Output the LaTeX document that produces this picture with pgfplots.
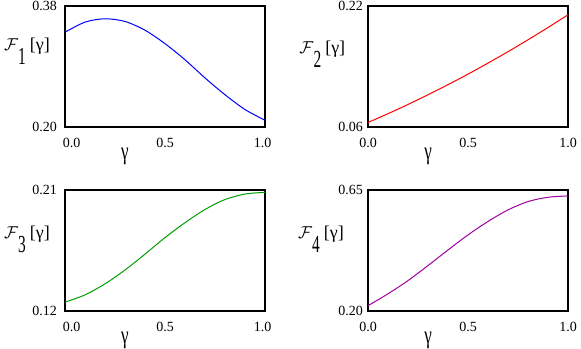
\documentclass[border=0pt]{standalone}
\usepackage{fontspec}
\setmainfont{Liberation Serif}
\usepackage{graphicx}
\usepackage{pgfplots}
\pgfplotsset{compat=1.18}

\definecolor{mblue}{rgb}{0,0,1}
\definecolor{mred}{rgb}{1,0,0}
\definecolor{mgreen}{rgb}{0,0.62,0}
\definecolor{mpurple}{rgb}{0.62,0,0.62}

% y label: script F, tall subscript, [gamma]
\newcommand{\flab}[1]{{\fontsize{17bp}{17bp}\selectfont$\mathcal{F}$}%
  \raisebox{-14bp}{\scalebox{1.1}[1.75]{\fontsize{14bp}{14bp}\selectfont #1}}%
  \hspace{4bp}{\fontsize{18bp}{18bp}\selectfont [γ]}}
\newcommand{\glab}{\scalebox{0.85}[1.25]{\fontsize{20bp}{20bp}\selectfont γ}}

\pgfplotsset{
  panel/.style={
    scale only axis, width=200bp, height=121bp,
    xmin=0, xmax=1, anchor=south west,
    axis lines=box,
    every axis plot/.append style={line width=1bp, smooth},
    axis line style={line width=1.6bp, black},
    major tick length=0pt,
    tick label style={font=\fontsize{14bp}{14bp}\selectfont, inner sep=0pt},
    xtick={0,0.5,1},
    xticklabel style={yshift=-11bp},
    xlabel={\glab},
    xlabel style={at={(rel axis cs:0.3,0)}, anchor=center, yshift=-29bp},
    ylabel style={rotate=-90, anchor=base east, inner sep=0pt},
  },
  leftcol/.style={
    xticklabels={\hspace*{13bp}0.0, 0.5, 1.0\hspace*{4.6bp}},
    yticklabel style={xshift=-8bp},
  },
  rightcol/.style={
    xticklabels={0.0, 0.5, 1.0},
    yticklabel style={xshift=-5bp},
  },
}

\begin{document}
\begin{tikzpicture}[x=1bp, y=1bp]
\useasboundingbox (0,0) rectangle (581,348);

% F1
\begin{axis}[panel, leftcol, at={(65bp,221bp)},
    ymin=0.20, ymax=0.38, ytick={0.20,0.38}, yticklabels={0.20,0.38},
    ylabel={\flab{1}}, ylabel style={at={(rel axis cs:-0.075,0.63)}}]
\addplot[mblue] coordinates {
  (0,0.341) (0.1,0.356) (0.2,0.361) (0.3,0.357) (0.4,0.344) (0.5,0.324)
  (0.6,0.300) (0.7,0.273) (0.8,0.248) (0.9,0.226) (1,0.210)};
\end{axis}

% F2
\begin{axis}[panel, rightcol, at={(368bp,221bp)},
    ymin=0.06, ymax=0.22, ytick={0.06,0.22}, yticklabels={0.06,0.22},
    ylabel={\flab{2}}, ylabel style={at={(rel axis cs:-0.113,0.61)}}]
\addplot[mred] coordinates {
  (0,0.0660) (0.1,0.0776) (0.2,0.0898) (0.3,0.1026) (0.4,0.1160) (0.5,0.1299)
  (0.6,0.1445) (0.7,0.1596) (0.8,0.1753) (0.9,0.1916) (1,0.2084)};
\end{axis}

% F3
\begin{axis}[panel, leftcol, at={(65bp,37bp)},
    ymin=0.12, ymax=0.21, ytick={0.12,0.21}, yticklabels={0.12,0.21},
    ylabel={\flab{3}}, ylabel style={at={(rel axis cs:-0.075,0.60)}}]
\addplot[mgreen] coordinates {
  (0,0.1266) (0.1,0.1320) (0.2,0.1402) (0.3,0.1505) (0.4,0.1623) (0.5,0.1746)
  (0.6,0.1857) (0.7,0.1955) (0.8,0.2029) (0.9,0.2070) (1,0.2083)};
\end{axis}

% F4
\begin{axis}[panel, rightcol, at={(368bp,37bp)},
    ymin=0.20, ymax=0.65, ytick={0.20,0.65}, yticklabels={0.20,0.65},
    ylabel={\flab{4}}, ylabel style={at={(rel axis cs:-0.12,0.60)}}]
\addplot[mpurple] coordinates {
  (0,0.2197) (0.1,0.264) (0.2,0.313) (0.3,0.369) (0.4,0.427) (0.5,0.483)
  (0.6,0.533) (0.7,0.576) (0.8,0.607) (0.9,0.623) (1,0.628)};
\end{axis}
\end{tikzpicture}
\end{document}
